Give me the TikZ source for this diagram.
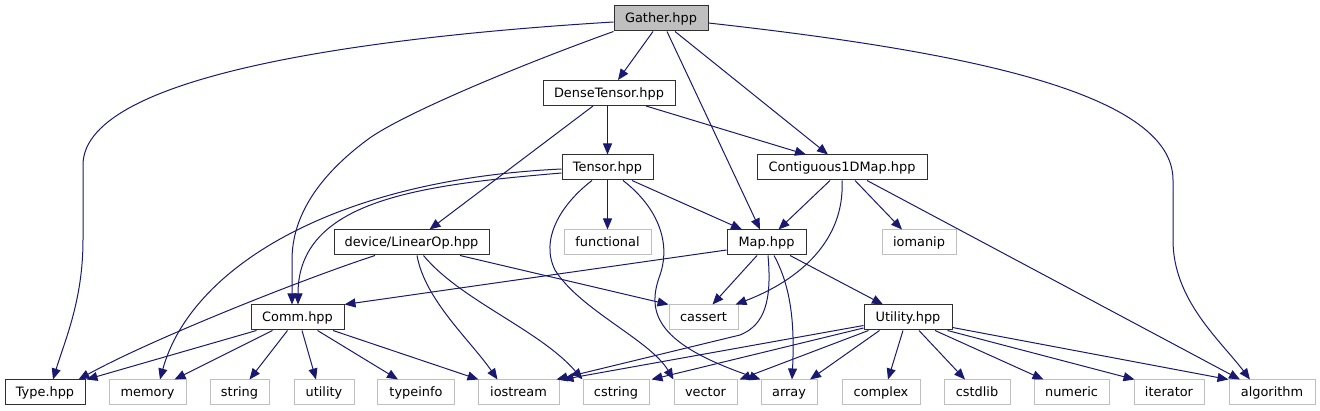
\documentclass[tikz,border=0pt]{standalone}
\usepackage{fontspec}
\setmainfont{DejaVu Sans}
\usetikzlibrary{arrows.meta,calc}
\definecolor{edgec}{HTML}{191970}
\definecolor{grayb}{HTML}{BFBFBF}
\definecolor{boxb}{HTML}{303030}
\begin{document}
\begin{tikzpicture}[x=1pt,y=-1pt,
  font=\fontsize{12.9}{15}\selectfont,
  hbox/.style={draw=boxb, line width=1pt, inner sep=0pt, minimum height=25pt, text height=11pt, text depth=2.6pt},
  sysbox/.style={draw=grayb, line width=1pt, inner sep=0pt, minimum height=25pt, text height=11pt, text depth=2.6pt},
  dep/.style={draw=edgec, line width=1pt, -{Triangle[length=11pt,width=9pt]}}]
\useasboundingbox (0,0) rectangle (1320,411);
% nodes
\node[hbox, fill=grayb, minimum width=94pt] (gather) at (661,18.5) {Gather.hpp};
\node[hbox, minimum width=132pt] (dense) at (609,93) {DenseTensor.hpp};
\node[hbox, minimum width=91pt] (tensor) at (607.5,167.5) {Tensor.hpp};
\node[hbox, minimum width=170pt] (contig) at (842,167.5) {Contiguous1DMap.hpp};
\node[hbox, minimum width=155pt] (linop) at (411.5,242.5) {device/LinearOp.hpp};
\node[sysbox, minimum width=87pt] (functional) at (607.5,242.5) {functional};
\node[hbox, minimum width=79pt] (map) at (766.5,242.5) {Map.hpp};
\node[sysbox, minimum width=74pt] (iomanip) at (919,242.5) {iomanip};
\node[hbox, minimum width=93pt] (comm) at (297.5,317.5) {Comm.hpp};
\node[sysbox, minimum width=69pt] (cassert) at (703.5,317.5) {cassert};
\node[hbox, minimum width=88pt] (utilityh) at (908,317.5) {Utility.hpp};
\node[hbox, minimum width=80pt] (type) at (45,392.5) {Type.hpp};
\node[sysbox, minimum width=77pt] (memory) at (147.5,392.5) {memory};
\node[sysbox, minimum width=59pt] (string) at (239.5,392.5) {string};
\node[sysbox, minimum width=60pt] (utility) at (324,392.5) {utility};
\node[sysbox, minimum width=77pt] (typeinfo) at (416,392.5) {typeinfo};
\node[sysbox, minimum width=81pt] (iostream) at (518.5,392.5) {iostream};
\node[sysbox, minimum width=66pt] (cstring) at (616,392.5) {cstring};
\node[sysbox, minimum width=63pt] (vector) at (705.5,392.5) {vector};
\node[sysbox, minimum width=56pt] (array) at (789,392.5) {array};
\node[sysbox, minimum width=78pt] (complex) at (881,392.5) {complex};
\node[sysbox, minimum width=66pt] (cstdlib) at (977,392.5) {cstdlib};
\node[sysbox, minimum width=75pt] (numeric) at (1071.5,392.5) {numeric};
\node[sysbox, minimum width=70pt] (iterator) at (1169,392.5) {iterator};
\node[sysbox, minimum width=86pt] (algorithm) at (1272,392.5) {algorithm};
% edges from Gather
\draw[dep] ($(gather.south)+(-8,0)$) -- ($(dense.north)+(9,0)$);
\draw[dep] ($(gather.south)+(6,0)$) -- ($(map.north)+(-6.5,0)$);
\draw[dep] ($(gather.south)+(14,0)$) -- ($(contig.north)+(-14,0)$);
\draw[dep] ($(gather.west)+(0,3.5)$) .. controls (400,35) and (83,70) .. (83,165) -- (83,240) .. controls (83,300) and (65,340) .. ($(type.north)+(8,0)$);
\draw[dep] (gather.south west) .. controls (520,65) and (400,115) .. (367,140) .. controls (320,175) and (292,215) .. (292,260) -- ($(comm.north)+(-5.5,0)$);
\draw[dep] ($(gather.east)+(0,4.5)$) .. controls (950,50) and (1173,90) .. (1173,180) -- (1173,240) .. controls (1173,300) and (1220,340) .. ($(algorithm.north)+(-22,0)$);
% DenseTensor
\draw[dep] (tensor.north |- dense.south) -- (tensor.north);
\draw[dep] ($(dense.south)+(37,0)$) -- ($(contig.north)+(-36,0)$);
\draw[dep] ($(dense.south)+(-16,0)$) -- ($(linop.north)+(18,0)$);
% Tensor
\draw[dep] (tensor.south) -- (functional.north);
\draw[dep] ($(tensor.south)+(24.5,0)$) -- ($(map.north)+(-24.5,0)$);
\draw[dep] ($(tensor.west)+(0,1.5)$) .. controls (330,180) and (190,270) .. ($(memory.north)+(12.5,0)$);
\draw[dep] ($(tensor.west)+(0,5.5)$) .. controls (420,185) and (298,200) .. ($(comm.north)+(0.5,0)$);
\draw[dep] ($(tensor.south)+(-15.5,0)$) .. controls (560,205) and (540,240) .. (555,270) .. controls (580,310) and (650,340) .. (vector.north west);
\draw[dep] ($(tensor.south)+(15.5,0)$) .. controls (655,205) and (672,240) .. (660,275) .. controls (645,315) and (660,345) .. (array.north west);
% Contiguous1DMap
\draw[dep] ($(contig.south)+(-12,0)$) -- ($(map.north)+(12,0)$);
\draw[dep] (contig.south) .. controls (845,240) and (800,280) .. ($(cassert.north east)+(-3,0)$);
\draw[dep] ($(contig.south)+(13,0)$) -- ($(iomanip.north)+(-17,0)$);
\draw[dep] ($(contig.south)+(25,0)$) -- ($(algorithm.north)+(-32,0)$);
% device/LinearOp
\draw[dep] ($(linop.south)+(-36.5,0)$) .. controls (300,280) and (150,340) .. ($(type.north east)+(-7,0)$);
\draw[dep] ($(linop.south)+(48.5,0)$) -- (cassert.north west);
\draw[dep] ($(linop.south)+(5.5,0)$) .. controls (425,300) and (470,340) .. ($(iostream.north)+(-21,0)$);
\draw[dep] ($(linop.south)+(12,0)$) .. controls (460,300) and (540,330) .. (cstring.north west);
% Map
\draw[dep] ($(map.west)+(0,7.5)$) -- (comm.north east);
\draw[dep] ($(map.south)+(-9.5,0)$) -- ($(cassert.north)+(9,0)$);
\draw[dep] ($(map.south)+(1.5,0)$) .. controls (772,300) and (765,325) .. (740,335) -- ($(iostream.north east)+(-3,0)$);
\draw[dep] ($(map.south)+(7.5,0)$) .. controls (790,285) and (795,320) .. ($(array.north)+(3,0)$);
\draw[dep] ($(map.south)+(23.5,0)$) -- ($(utilityh.north)+(-25,0)$);
% Comm
\draw[dep] ($(comm.south)+(-41,0)$) -- ($(type.north east)+(1,0)$);
\draw[dep] ($(comm.south)+(-25,0)$) -- ($(memory.north)+(27,0)$);
\draw[dep] ($(comm.south)+(-10,0)$) -- ($(string.north)+(10,0)$);
\draw[dep] ($(comm.south)+(4.5,0)$) -- ($(utility.north)+(-8,0)$);
\draw[dep] ($(comm.south)+(20,0)$) -- ($(typeinfo.north)+(-18,0)$);
\draw[dep] ($(comm.south)+(35.5,0)$) -- ($(iostream.north west)+(1,0)$);
% Utility
\draw[dep] ($(utilityh.west)+(0,8)$) -- ($(iostream.north east)+(3,0)$);
\draw[dep] ($(utilityh.west)+(0,10.5)$) -- ($(cstring.north east)+(2,0)$);
\draw[dep] ($(utilityh.south west)+(5,0)$) -- ($(vector.north east)+(2,0)$);
\draw[dep] ($(utilityh.south west)+(16,0)$) -- ($(array.north)+(21,0)$);
\draw[dep] ($(utilityh.south)+(-5,0)$) -- ($(complex.north)+(7,0)$);
\draw[dep] ($(utilityh.south)+(11,0)$) -- ($(cstdlib.north)+(-12,0)$);
\draw[dep] ($(utilityh.south)+(27,0)$) -- ($(numeric.north)+(-28,0)$);
\draw[dep] ($(utilityh.south east)+(-5,0)$) -- ($(iterator.north west)+(1,0)$);
\draw[dep] ($(utilityh.east)+(0,10)$) -- (algorithm.north west);
\end{tikzpicture}
\end{document}
